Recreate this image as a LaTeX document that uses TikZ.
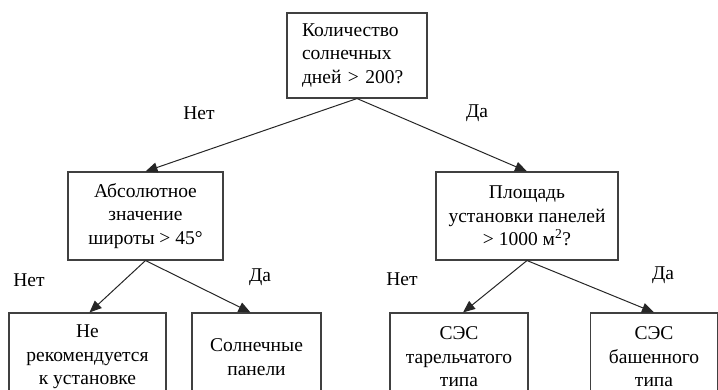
\documentclass[tikz,border=0pt]{standalone}
\usepackage{fontspec}
\setmainfont{Liberation Serif}
\usetikzlibrary{arrows.meta,positioning}

\begin{document}
\begin{tikzpicture}[x=1pt,y=-1pt,
    font=\fontsize{19.5}{23.5}\selectfont,
    blok/.style={draw=black!75, line width=1.1pt, align=center, inner sep=0pt, minimum height=88pt},
    strelka/.style={draw=black!85, line width=1pt, -{Triangle[length=12pt,width=10pt]}},
    otvet/.style={inner sep=0pt}]
    \useasboundingbox (0,0) rectangle (718,390);

    % Question at the top
    \node[blok, minimum width=140pt, minimum height=85pt, text width=110pt, align=left] (dni) at (357,55.5) {Количество\\ солнечных\\ дней > 200?};

    % Second level questions
    \node[blok, minimum width=155pt] (shirota) at (145.5,216) {Абсолютное\\ значение\\ широты > 45°};
    \node[blok, minimum width=182pt] (ploshad) at (527,216) {Площадь\\ установки панелей\\ > 1000 м\textsuperscript{2}?};

    % Answers (cut off at the bottom)
    \node[blok, minimum width=157pt] (ne) at (87.5,357) {Не\\ рекомендуется\\ к установке};
    \node[blok, minimum width=129pt] (paneli) at (256.5,357) {Солнечные\\ панели};
    \node[blok, minimum width=138pt] (tarelka) at (459,357) {СЭС\\ тарельчатого\\ типа};
    \node[blok, minimum width=127pt] (bashnya) at (654,357) {СЭС\\ башенного\\ типа};

    % Arrows
    \draw[strelka] (dni.south) -- (shirota.north);
    \draw[strelka] (dni.south) -- (ploshad.north);
    \draw[strelka] (shirota.south) -- ([xshift=2pt]ne.north);
    \draw[strelka] (shirota.south) -- ([xshift=-6pt]paneli.north);
    \draw[strelka] (ploshad.south) -- ([xshift=4pt]tarelka.north);
    \draw[strelka] (ploshad.south) -- (bashnya.north);

    % Yes / no labels
    \node[otvet] (net1) at (199,113) {Нет};
    \node[otvet] (da1) at (477,113) {Да};
    \node[otvet] (net2) at (29,280) {Нет};
    \node[otvet] (da2) at (260,277) {Да};
    \node[otvet] (net3) at (402,279) {Нет};
    \node[otvet] (da3) at (663,275) {Да};
\end{tikzpicture}
\end{document}
